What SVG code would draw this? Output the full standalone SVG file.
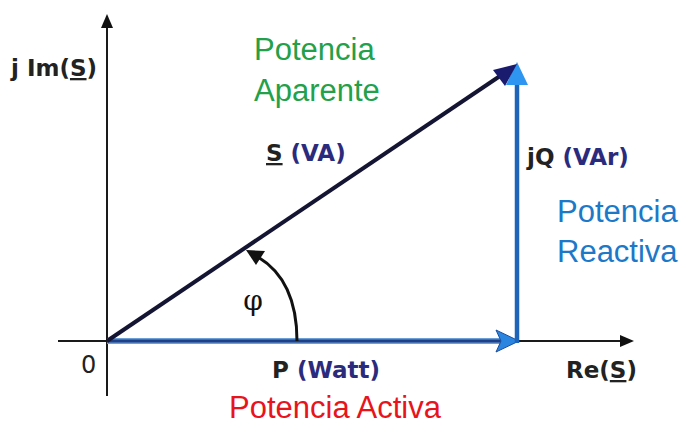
<svg xmlns="http://www.w3.org/2000/svg" width="686" height="427" viewBox="0 0 686 427">
<defs>
<style>
.ax{stroke:#1a1a1a;stroke-width:2;fill:none}
.lbl{font-family:"DejaVu Sans",Verdana,sans-serif;font-weight:bold;font-size:23px;fill:#222}
.nv{fill:#2b2b7e}
.nm{font-family:"Liberation Sans",Arial,sans-serif;font-size:31px}
</style>
</defs>
<rect width="686" height="427" fill="#fff"/>
<g id="axes">
<line class="ax" x1="107" y1="396" x2="107" y2="26"/>
<path d="M107,14 L101,28 L113,28 z" fill="#111"/>
<line class="ax" x1="58" y1="341" x2="622" y2="341"/>
<path d="M634,341 L620,335 L620,347 z" fill="#111"/>
</g>
<g id="connectors">
<line x1="107" y1="341" x2="505" y2="341" stroke="#6ea0d8" stroke-width="6"/>
<line x1="107" y1="341" x2="505" y2="341" stroke="#1f3f86" stroke-width="3"/>
<path d="M519,341 L496,330 L501,341 L496,352 z" fill="#2a85e0" stroke="#1a4fa0" stroke-width="1"/>
<line x1="517" y1="343" x2="517" y2="82" stroke="#1e64b8" stroke-width="4.5"/>
<path d="M517,62 L506,85 L528,85 z" fill="#2e96f0"/>
<line x1="107" y1="341" x2="500" y2="76" stroke="#141433" stroke-width="4"/>
<path d="M517,64 L493,70 L505,86 z" fill="#1a1a6e"/>
<path d="M297,341 C297,300 283,272 258,257" stroke="#111" stroke-width="3" fill="none"/>
<path d="M246,250 L265,251 L256,265 z" fill="#111"/>
</g>
<g id="labels">
<text class="lbl" x="11" y="76">j Im(<tspan text-decoration="underline">S</tspan>)</text>
<text class="nm" x="254" y="60" fill="#22a04a">Potencia</text>
<text class="nm" x="254" y="101" fill="#22a04a">Aparente</text>
<text class="lbl" x="266" y="161"><tspan text-decoration="underline">S</tspan> <tspan class="nv">(VA)</tspan></text>
<text class="lbl" x="527" y="165">jQ <tspan class="nv">(VAr)</tspan></text>
<text class="nm" x="557" y="222" fill="#1e78c8">Potencia</text>
<text class="nm" x="557" y="262" fill="#1e78c8">Reactiva</text>
<text x="253" y="310" text-anchor="middle" font-family="DejaVu Serif,serif" font-size="28" fill="#111">φ</text>
<text x="81" y="373" font-family="DejaVu Sans,sans-serif" font-size="24" fill="#222">0</text>
<text class="lbl" x="272" y="378">P <tspan class="nv">(Watt)</tspan></text>
<text class="lbl" x="566" y="378">Re(<tspan text-decoration="underline">S</tspan>)</text>
<text class="nm" x="229" y="418" fill="#e8141c">Potencia Activa</text>
</g>
</svg>
